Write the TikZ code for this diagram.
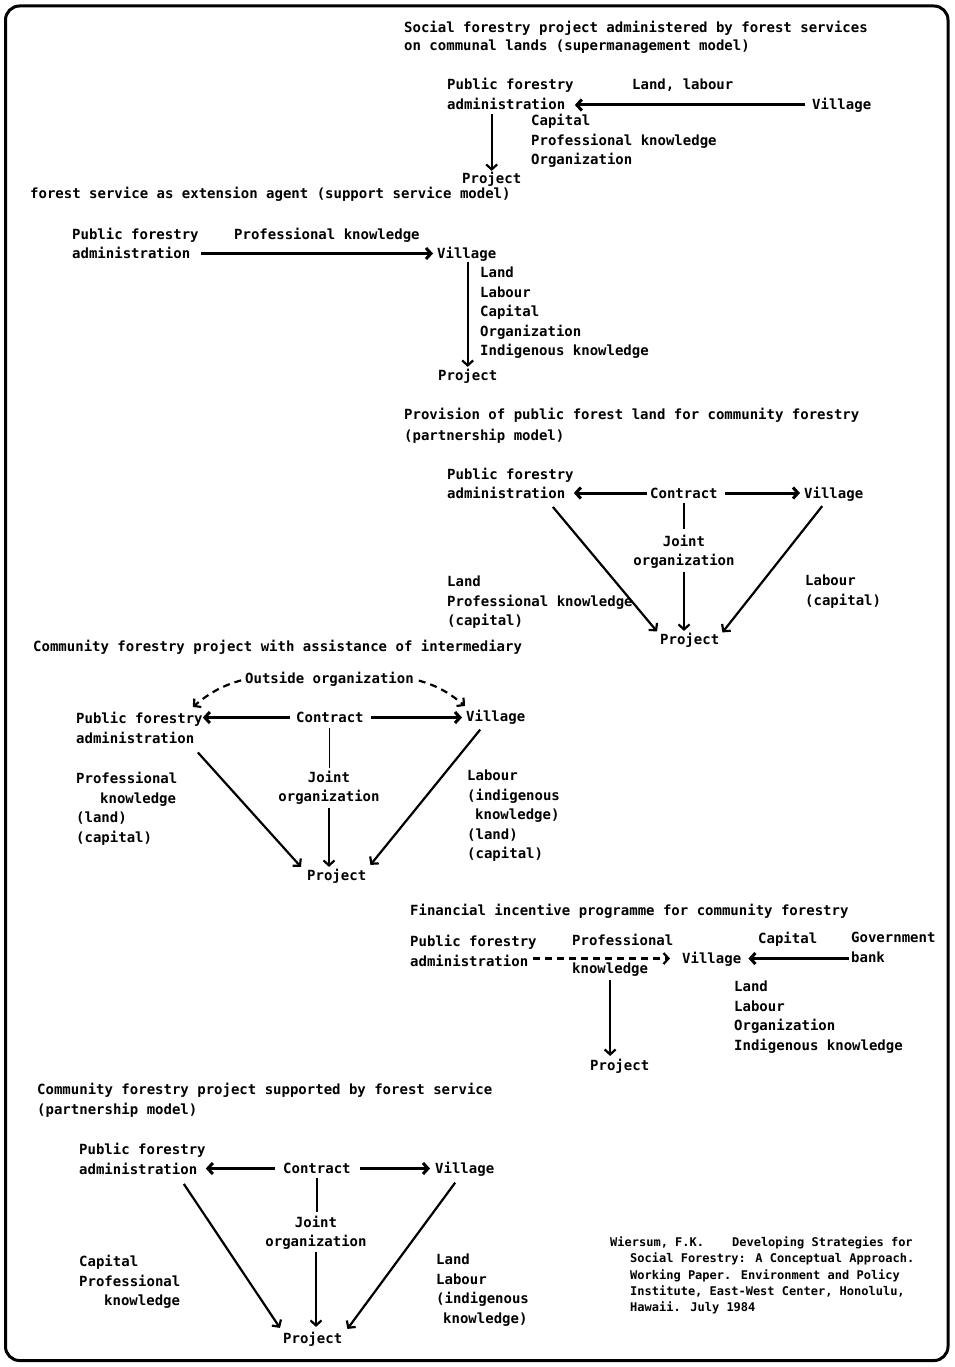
\documentclass[tikz,border=0pt]{standalone}
\usepackage{fontspec}
\setmainfont{DejaVu Sans Mono}
\usetikzlibrary{arrows.meta}

\begin{document}
\begin{tikzpicture}[x=1pt,y=-1pt,
txt/.style={anchor=base west,inner sep=0pt,align=left,font=\fontsize{14}{19.5}\selectfont\bfseries},
mid/.style={txt,anchor=base,align=center},
flow/.style={line width=3pt,-{Straight Barb[length=5pt,width=11pt]}},
feed/.style={line width=2.2pt,-{Straight Barb[length=5pt,width=11pt]}},
tie/.style={line width=1.6pt},
hint/.style={line width=2.2pt,dash pattern=on 7pt off 5pt,-{Straight Barb[length=5pt,width=11pt]}}]
\useasboundingbox (0,0) rectangle (954,1367);
\draw[line width=3pt,rounded corners=14pt] (5.5,6) rectangle (948,1360.5);

\node[txt] (ttl1) at (404,50.5) {Social forestry project administered by forest services\\[-2pt]on communal lands (supermanagement model)};
\node[txt] (adm1) at (447,109.5) {Public forestry\\administration};
\node[txt] (inp1) at (632,90) {Land, labour};
\node[txt] (vil1) at (812,110) {Village};
\node[txt] (res1) at (531,164.5) {Capital\\Professional knowledge\\Organization};
\node[txt] (prj1) at (462,183.5) {Project};
\draw[flow,shorten <=7pt,shorten >=1pt] ([yshift=5pt]vil1.base west) -- ([yshift=5pt]vil1.base west -| adm1.east);
\draw[feed,shorten <=4.5pt,shorten >=1pt] (adm1.south -| prj1.north) -- (prj1.north);

\node[txt] (ttl2) at (30,199) {forest service as extension agent (support service model)};
\node[txt] (adm2) at (72,258.5) {Public forestry\\administration};
\node[txt] (inp2) at (234,239) {Professional knowledge};
\node[txt] (vil2) at (437,258.5) {Village};
\node[txt] (res2) at (480,355.5) {Land\\Labour\\Capital\\Organization\\Indigenous knowledge};
\node[txt] (prj2) at (438,380.5) {Project};
\draw[flow,shorten <=2pt,shorten >=4pt] ([yshift=5pt]vil2.base west -| adm2.east) -- ([yshift=5pt]vil2.base west);
\draw[feed,shorten >=2pt] (vil2.south -| prj2.north) -- (prj2.north);

\node[txt] (ttl3) at (404,440) {Provision of public forest land for community forestry\\[1.5pt](partnership model)};
\node[txt] (adm3) at (447,498.5) {Public forestry\\administration};
\node[txt] (con3) at (650,498) {Contract};
\node[txt] (vil3) at (804,498) {Village};
\node[mid] (jnt3) at (684,565.5) {Joint\\organization};
\node[txt] (prj3) at (660,644) {Project};
\node[txt] (inp3a) at (447,625.5) {Land\\Professional knowledge\\(capital)};
\node[txt] (inp3b) at (805,605) {Labour\\(capital)};
\draw[flow,shorten <=3pt] ([yshift=5pt]con3.base west) -- ([yshift=5pt]con3.base west -| adm3.east);
\draw[flow,shorten <=7pt,shorten >=4pt] ([yshift=5pt]con3.base east) -- ([yshift=5pt]con3.base east -| vil3.west);
\draw[tie,shorten <=5pt,shorten >=5pt] (con3.south) -- (con3.south |- jnt3.north);
\draw[feed,shorten <=3pt,shorten >=1.5pt] (jnt3.south) -- (jnt3.south |- prj3.north);
\draw[feed] ([xshift=-21pt,yshift=-8pt]adm3.south east) -- ([xshift=-3pt,yshift=1pt]prj3.north west);
\draw[feed] ([xshift=-11.5pt,yshift=-5pt]vil3.south) -- ([xshift=3pt]prj3.north east);

\node[txt] (ttl4) at (33,651.5) {Community forestry project with assistance of intermediary};
\node[txt] (out4) at (245,683.5) {Outside organization};
\node[txt] (adm4) at (76,743) {Public forestry\\administration};
\node[txt] (con4) at (296,722.5) {Contract};
\node[txt] (vil4) at (466,721.5) {Village};
\node[mid] (jnt4) at (329,801.5) {Joint\\organization};
\node[txt] (prj4) at (307,880.5) {Project};
\node[txt] (inp4a) at (76,842) {Professional\\\hspace*{24pt}knowledge\\(land)\\(capital)};
\node[txt] (inp4b) at (467,858.5) {Labour\\(indigenous\\\hspace*{8pt}knowledge)\\(land)\\(capital)};
\draw[flow,shorten <=6pt] ([yshift=5pt]con4.base west) -- ([yshift=5pt]con4.base west -| adm4.east);
\draw[flow,shorten <=7pt,shorten >=4pt] ([yshift=5pt]con4.base east) -- ([yshift=5pt]con4.base east -| vil4.west);
\draw[tie,line width=1.1pt,shorten <=5pt,shorten >=2pt] (con4.south) -- (con4.south |- jnt4.north);
\draw[feed,shorten <=3pt,shorten >=2pt] (jnt4.south) -- (jnt4.south |- prj4.north);
\draw[feed] ([xshift=-5pt,yshift=-9pt]adm4.south east) -- ([xshift=-6pt,yshift=2pt]prj4.north west);
\draw[feed] ([xshift=-15.5pt,yshift=-5pt]vil4.south) -- ([xshift=4pt,yshift=4pt]prj4.north east);
\draw[hint,shorten <=4pt] (out4.west) to[bend right=12] ([xshift=-10pt,yshift=5pt]adm4.north east);
\draw[hint,shorten <=5pt] (out4.east) to[bend left=12] ([xshift=-1pt,yshift=4pt]vil4.north west);

\node[txt] (ttl5) at (410,915.5) {Financial incentive programme for community forestry};
\node[txt] (adm5) at (410,966) {Public forestry\\administration};
\node[txt] (inp5a) at (572,945.5) {Professional};
\node[txt] (inp5b) at (572,973.5) {knowledge};
\node[txt] (vil5) at (682,963.5) {Village};
\node[txt] (cap5) at (758,943.5) {Capital};
\node[txt] (gov5) at (851,962) {Government\\bank};
\node[txt] (res5) at (734,1050) {Land\\Labour\\Organization\\Indigenous knowledge};
\node[txt] (prj5) at (590,1070.5) {Project};
\draw[hint,shorten >=12pt] ([xshift=-4pt,yshift=5pt]vil5.base west -| adm5.east) -- ([yshift=5pt]vil5.base west);
\draw[flow,shorten <=2pt,shorten >=7pt] ([yshift=5pt]vil5.base east -| gov5.west) -- ([yshift=5pt]vil5.base east);
\draw[feed,shorten <=3pt,shorten >=3pt] (inp5b.south) -- (inp5b.south |- prj5.north);

\node[txt] (ttl6) at (37,1114) {Community forestry project supported by forest service\\(partnership model)};
\node[txt] (adm6) at (79,1174) {Public forestry\\administration};
\node[txt] (con6) at (283,1173.5) {Contract};
\node[txt] (vil6) at (435,1173.5) {Village};
\node[mid] (jnt6) at (316,1246.5) {Joint\\organization};
\node[txt] (prj6) at (283,1343.5) {Project};
\node[txt] (inp6a) at (79,1305.5) {Capital\\Professional\\\hspace*{25pt}knowledge};
\node[txt] (inp6b) at (436,1323) {Land\\Labour\\(indigenous\\\hspace*{7pt}knowledge)};
\draw[flow,shorten <=8pt] ([yshift=5pt]con6.base west) -- ([yshift=5pt]con6.base west -| adm6.east);
\draw[flow,shorten <=9.5pt,shorten >=5pt] ([yshift=5pt]con6.base east) -- ([yshift=5pt]con6.base east -| vil6.west);
\draw[tie,shorten <=4.5pt,shorten >=3pt] (con6.south) -- (con6.south |- jnt6.north);
\draw[feed,shorten <=2pt,shorten >=5pt] (jnt6.south) -- (jnt6.south |- prj6.north);
\draw[feed] ([xshift=-22pt,yshift=-9.5pt]adm6.south east) -- ([xshift=-3pt,yshift=4pt]prj6.north west);
\draw[feed] ([xshift=-9.5pt,yshift=-6pt]vil6.south) -- ([xshift=5pt,yshift=3pt]prj6.north east);

\node[anchor=base west,inner sep=0pt,align=left,font=\fontsize{12}{16.25}\selectfont\bfseries] (ref6) at (610,1311.5)
  {Wiersum, F.K.\hspace{28pt}Developing Strategies for\\
   \hspace*{20pt}Social Forestry: A Conceptual Approach.\\
   \hspace*{20pt}Working Paper. Environment and Policy\\
   \hspace*{20pt}Institute, East-West Center, Honolulu,\\
   \hspace*{20pt}Hawaii. July 1984};
\end{tikzpicture}
\end{document}
